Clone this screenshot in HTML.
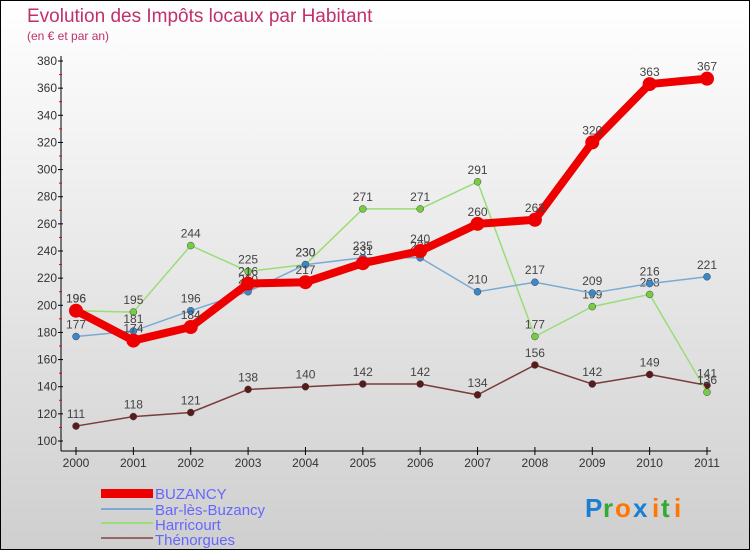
<!DOCTYPE html>
<html><head><meta charset="utf-8"><style>
body{margin:0}
#c{width:750px;height:550px;position:relative;box-sizing:border-box;border:1px solid #000;background:linear-gradient(#fff,#cfcfcf);font-family:"Liberation Sans",sans-serif;overflow:hidden}
svg text{font-family:"Liberation Sans",sans-serif}
</style></head><body>
<div id="c">
<svg id="s" width="750" height="550">
<text x="26" y="21" font-size="19" fill="#c0306a">Evolution des Impôts locaux par Habitant</text>
<text x="26" y="39" font-size="12" fill="#c0306a">(en € et par an)</text>
<g id="axes"></g><g id="series"></g>
<g>
<rect x="100" y="488" width="52" height="9" fill="#e00"/>
<text x="154" y="498" font-size="15" fill="#6666ff">BUZANCY</text>
<rect x="100" y="507" width="52" height="2" fill="#7aaad4"/>
<text x="154" y="514" font-size="15" fill="#6666ff">Bar-lès-Buzancy</text>
<rect x="100" y="521" width="52" height="2" fill="#99dd77"/>
<text x="154" y="529" font-size="15" fill="#6666ff">Harricourt</text>
<rect x="100" y="536" width="52" height="2" fill="#996666"/>
<text x="154" y="544" font-size="15" fill="#6666ff">Thénorgues</text>
</g>
<g font-size="26" font-weight="bold">
<text x="584" y="516" fill="#1a7fd4">P</text><text x="602" y="516" fill="#33aa33">r</text><text x="614" y="516" fill="#ff7700">o</text><text x="632" y="516" fill="#1a7fd4">x</text><text x="651" y="516" fill="#ff7700">i</text><text x="660" y="516" fill="#33aa33">t</text><text x="673" y="516" fill="#ff7700">i</text>
</g>
</svg></div>
<script>
const years=["2000","2001","2002","2003","2004","2005","2006","2007","2008","2009","2010","2011"];
const yTicks=[100,120,140,160,180,200,220,240,260,280,300,320,340,360,380];
const buzancy=[196,174,184,216,217,231,240,260,263,320,363,367];
const bar=[177,181,196,210,230,235,235,210,217,209,216,221];
const harricourt=[196,195,244,225,230,271,271,291,177,199,208,136];
const thenorgues=[111,118,121,138,140,142,142,134,156,142,149,141];
const NS="http://www.w3.org/2000/svg";
const x=i=>75+i*(706-75)/(years.length-1);
const y=v=>440-(v-100)*(380/280);
function mk(t,a,p){const e=document.createElementNS(NS,t);for(const k in a)e.setAttribute(k,a[k]);p.appendChild(e);return e;}
const ax=document.getElementById('axes');
let l=mk('line',{x1:60,y1:55,x2:60,y2:450,stroke:'#000'},ax);


l=mk('line',{x1:60,y1:450,x2:710,y2:450,stroke:'#000'},ax);


yTicks.forEach(v=>{
 mk('line',{x1:57,y1:y(v),x2:62,y2:y(v),stroke:'#000'},ax);
 if(v<380)mk('line',{x1:58,y1:y(v+10),x2:61,y2:y(v+10),stroke:'#e00'},ax);
 const t=mk('text',{x:56,y:y(v)+4,'font-size':12,fill:'#333','text-anchor':'end'},ax);t.textContent=v;
 
 
});
years.forEach((yr,i)=>{
 mk('line',{x1:x(i),y1:446,x2:x(i),y2:454,stroke:'#000'},ax);
 const t=mk('text',{x:x(i),y:466,'font-size':12,fill:'#333','text-anchor':'middle'},ax);t.textContent=yr;
 
 
});
const sg=document.getElementById('series');
function series(d,name,col,w,r,dot,lab){
 const g=mk('g',{},sg);
 
 
 const pl=mk('polyline',{points:d.map((v,i)=>x(i)+','+y(v)).join(' '),fill:'none',stroke:col,'stroke-width':w,'stroke-linejoin':'round'},g);
 
 
 d.forEach((v,i)=>{
  const c=mk('circle',{cx:x(i),cy:y(v),r:r,fill:dot,stroke:col==='#e00'?'#e00':'#444','stroke-width':col==='#e00'?0:0.5},g);
  
  
  const t=mk('text',{x:x(i),y:y(v)-8,'font-size':12,fill:'#444','text-anchor':'middle'},g);t.textContent=v;
  
  
 });
}
series(thenorgues,'thenorgues','#7a3b3b',1.5,3.5,'#5a1a1a');
series(harricourt,'harricourt','#99dd77',1.5,3.5,'#77cc44');
series(bar,'bar-les-buzancy','#7aaad4',1.5,3.5,'#3a88cc');
series(buzancy,'buzancy','#e00',8,7,'#e00');
</script>
</body></html>
